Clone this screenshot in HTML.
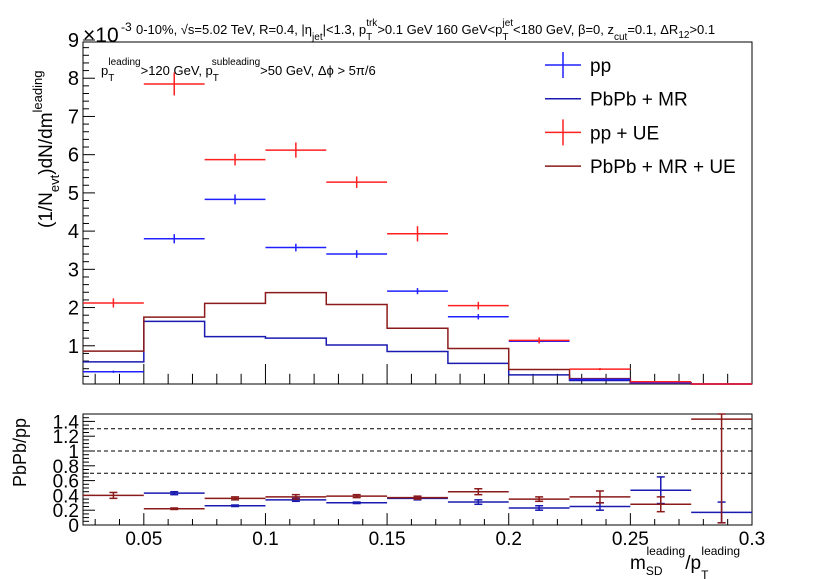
<!DOCTYPE html>
<html><head><meta charset="utf-8"><style>
html,body{margin:0;padding:0;background:#fff;}
svg{display:block;font-family:"Liberation Sans",sans-serif;}
</style></head><body>
<svg id="c" width="830" height="579" viewBox="0 0 830 579" xmlns="http://www.w3.org/2000/svg">
<g id="topPanel"></g>
<g id="botPanel"></g>
<g>
<text x="83" y="42" font-size="21">×10</text>
<text x="121" y="31" font-size="12">-3</text>
<text x="136" y="34" font-size="13">0-10%, √s=5.02 TeV, R=0.4, |η<tspan font-size="10" dy="6">jet</tspan><tspan dy="-6">|&lt;1.3, p</tspan><tspan font-size="10" dy="6">T</tspan><tspan font-size="10" dx="-6" dy="-14">trk</tspan><tspan dy="8">&gt;0.1 GeV   160 GeV&lt;p</tspan><tspan font-size="10" dy="6">T</tspan><tspan font-size="10" dx="-6" dy="-14">jet</tspan><tspan dy="8">&lt;180 GeV, β=0, z</tspan><tspan font-size="10" dy="6">cut</tspan><tspan dy="-6">=0.1, ΔR</tspan><tspan font-size="10" dy="4">12</tspan><tspan dy="-4">&gt;0.1</tspan></text>
</g>
<g>
<text x="101" y="75" font-size="13">p<tspan font-size="10" dy="6">T</tspan><tspan font-size="10" dx="-6" dy="-16">leading</tspan><tspan dy="10">&gt;120 GeV, p</tspan><tspan font-size="10" dy="6">T</tspan><tspan font-size="10" dx="-6" dy="-16">subleading</tspan><tspan dy="10">&gt;50 GeV, Δϕ &gt; 5π/6</tspan></text>
</g>
<text transform="translate(52,228) rotate(-90)" font-size="19">(1/N<tspan font-size="13" dy="7">evt</tspan><tspan dy="-7">)dN/dm</tspan><tspan font-size="13" dy="-10">leading</tspan></text>
<text transform="translate(26,487) rotate(-90)" font-size="18">PbPb/pp</text>
<text x="630" y="569" font-size="19">m<tspan font-size="12" dy="6">SD</tspan><tspan font-size="12" dx="-16" dy="-20">leading</tspan><tspan dy="14">/p</tspan><tspan font-size="12" dy="10">T</tspan><tspan font-size="12" dx="-7" dy="-24">leading</tspan></text>
<g id="leg"></g>
</svg>
<script>
const binEdges=[0.025,0.05,0.075,0.1,0.125,0.15,0.175,0.2,0.225,0.25,0.275,0.3];
const ppVals=[0.32,3.80,4.83,3.57,3.40,2.43,1.76,1.12,0.12,0.04,0];
const ppErr=[0.03,0.12,0.13,0.1,0.1,0.08,0.07,0.05,0.02,0.01,0];
const ppUEVals=[2.12,7.85,5.87,6.12,5.28,3.93,2.05,1.14,0.39,0.06,0];
const ppUEErr=[0.12,0.3,0.15,0.2,0.15,0.2,0.1,0.08,0.03,0.01,0];
const pbmrVals=[0.58,1.64,1.24,1.20,1.02,0.85,0.54,0.24,0.09,0.02,0];
const pbmrUEVals=[0.86,1.75,2.11,2.39,2.08,1.46,0.93,0.38,0.14,0.03,0];
const ratioMR=[null,0.43,0.26,0.34,0.30,0.36,0.31,0.23,0.25,0.47,0.17];
const ratioMRErr=[0,0.02,0.01,0.02,0.01,0.02,0.03,0.03,0.05,0.18,0.14];
const ratioUE=[0.40,0.22,0.36,0.38,0.39,0.37,0.45,0.35,0.38,0.28,1.43];
const ratioUEErr=[0.04,0.01,0.02,0.03,0.02,0.02,0.04,0.03,0.08,0.1,1.4];
const topYTicks=[1,2,3,4,5,6,7,8,9];
const botYTicks=[0,0.2,0.4,0.6,0.8,1,1.2,1.4];
const xTicks=[0.05,0.1,0.15,0.2,0.25,0.3];
const dashLevels=[0.7,1.0,1.3];
const NS="http://www.w3.org/2000/svg";
const X0=83,X1=752;
const xs=v=>X0+(v-0.025)/(0.275)*(X1-X0);
const T0=384,T1=40; const ys=v=>T0-v/9*(T0-T1);
const B0=525,B1=414; const yr=v=>B0-v/1.5*(B0-B1);
function el(p,tag,a){const e=document.createElementNS(NS,tag);for(const k in a)e.setAttribute(k,a[k]);p.appendChild(e);return e;}
const topG=document.getElementById('topPanel'),botG=document.getElementById('botPanel'),leg=document.getElementById('leg');
function frame(g,y0,y1,fy,ticks,minorStep,maxV,fs,frameTop){
  let f=el(g,'rect',{x:X0,y:frameTop,width:X1-X0,height:y0-frameTop,fill:'none',stroke:'#000','stroke-width':1});
  
  for(let v=0;v<=maxV+1e-9;v+=minorStep){const major=ticks.some(t=>Math.abs(t-v)<1e-6)||Math.abs(v)<1e-9;
    const t=el(g,'line',{x1:X0,x2:X0+(major?12:6),y1:fy(v),y2:fy(v),stroke:'#000'});
    }
  ticks.forEach(v=>{const t=el(g,'text',{x:X0-4,y:fy(v)+7,'text-anchor':'end','font-size':fs});t.textContent=String(v);
    });
  for(let i=3;i<=30;i++){const v=i/100;const major=i%5===0;
    const t=el(g,'line',{x1:xs(v),x2:xs(v),y1:y0,y2:y0-(major?(y0-y1)*0.035+8:(y0-y1)*0.018+4),stroke:'#000'});
    }
}
frame(topG,T0,T1,ys,topYTicks,0.2,9,20,42);
frame(botG,B0,B1,yr,botYTicks,0.05,1.5,19,B1);
xTicks.forEach(v=>{const t=el(botG,'text',{x:xs(v),y:545,'text-anchor':'middle','font-size':19});t.textContent=String(v);
  });
dashLevels.forEach(v=>{const l=el(botG,'line',{x1:X0,x2:X1,y1:yr(v),y2:yr(v),stroke:'#000','stroke-dasharray':'4,3'});
  });
function hist(vals,color,name){let d='';vals.forEach((v,i)=>{const a=xs(binEdges[i]),b=xs(binEdges[i+1]),y=ys(v);d+=(i?'L':'M')+a+','+y+'L'+b+','+y;});
  const p=el(topG,'path',{d:d,fill:'none',stroke:color,'stroke-width':1.5});
  }
hist(pbmrVals,'#1a1ab0','pbpb-mr-hist');
hist(pbmrUEVals,'#8b1a1a','pbpb-mr-ue-hist');
function pts(g,vals,errs,color,fy,caps,name,yBot,yTop){vals.forEach((v,i)=>{if(v===null)return;const a=xs(binEdges[i]),b=xs(binEdges[i+1]),m=(a+b)/2;
  const gg=el(g,'g',{stroke:color,'stroke-width':1.5});
  
  el(gg,'line',{x1:a,x2:b,y1:fy(v),y2:fy(v)});
  const lo=Math.min(fy(v-errs[i]),yBot),hi=Math.max(fy(v+errs[i]),yTop);
  el(gg,'line',{x1:m,x2:m,y1:lo,y2:hi});
  if(caps){el(gg,'line',{x1:m-4,x2:m+4,y1:lo,y2:lo});el(gg,'line',{x1:m-4,x2:m+4,y1:hi,y2:hi});}
});}
pts(topG,ppVals,ppErr,'#2020ff',ys,false,'pp-point',T0,T1);
pts(topG,ppUEVals,ppUEErr,'#ff2020',ys,false,'pp-ue-point',T0,T1);
pts(botG,ratioMR,ratioMRErr,'#1a1ab0',yr,true,'ratio-mr-point',B0,B1);
pts(botG,ratioUE,ratioUEErr,'#8b1a1a',yr,true,'ratio-ue-point',B0,B1);
const legNames=['pp','PbPb + MR','pp + UE','PbPb + MR + UE'];
const legColors=['#2020ff','#1a1ab0','#ff2020','#8b1a1a'];
const legCross=[true,false,true,false];
legNames.forEach((n,i)=>{const y=65+i*33.7;const g=el(leg,'g',{});
  
  el(g,'line',{x1:545,x2:581,y1:y,y2:y,stroke:legColors[i],'stroke-width':1.5});
  if(legCross[i])el(g,'line',{x1:563,x2:563,y1:y-13,y2:y+13,stroke:legColors[i],'stroke-width':1.5});
  const t=el(g,'text',{x:590,y:y+7,'font-size':19});t.textContent=n;});
</script>
</body></html>
